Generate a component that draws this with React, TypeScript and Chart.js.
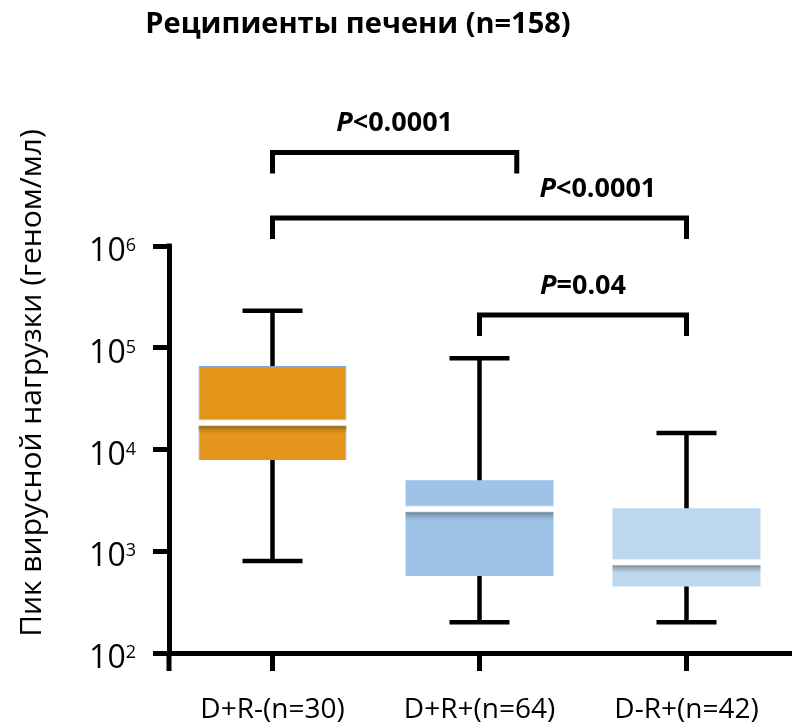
import React, { useEffect, useRef } from 'react';
import { Chart, registerables } from 'chart.js';

Chart.register(...registerables);

// ---- data ----
const categories = ['D+R-(n=30)', 'D+R+(n=64)', 'D-R+(n=42)'];
const whiskerMin = [800, 200, 200];
const q1 = [7900, 570, 450];
const median = [18300, 2600, 780];
const q3 = [66000, 5000, 2650];
const whiskerMax = [231000, 79000, 14500];
const boxColors = ['#E4961A', '#9DC3E6', '#BDD7EE'];
const boxBorderColors = ['#7FA3D3', 'rgba(0,0,0,0)', 'rgba(0,0,0,0)'];
const boxBorderWidths = [1, 0, 0];
const yTickValues = [100, 1000, 10000, 100000, 1000000];

// significance brackets (category index positions, y value of bracket bar)
const bracketFrom = [0, 0, 1];
const bracketTo = [1.18, 2, 2];
const bracketTop = [8.3e6, 1.88e6, 2.1e5];
const bracketLabelX = [0.59, 1.572, 1.5];
const bracketP = ['P', 'P', 'P'];
const bracketText = ['<0.0001', '<0.0001', '=0.04'];

const titleText = 'Реципиенты печени (n=158)';
const yTitleText = 'Пик вирусной нагрузки (геном/мл)';

const FONT = '"Open Sans", "Noto Sans", sans-serif';

const boxPlugin = {
  id: 'boxExtras',
  afterDatasetsDraw(chart: any) {
    const ctx = chart.ctx;
    const xs = chart.scales.x;
    const ys = chart.scales.y;
    const catW = xs.getPixelForValue(1) - xs.getPixelForValue(0);
    const meta = chart.getDatasetMeta(0);
    ctx.save();
    categories.forEach((_, i) => {
      const cx = xs.getPixelForValue(i);
      const bar = meta.data[i];
      const half = bar.width / 2;
      const pTop = ys.getPixelForValue(q3[i]);
      const pBot = ys.getPixelForValue(q1[i]);
      const pMax = ys.getPixelForValue(whiskerMax[i]);
      const pMin = ys.getPixelForValue(whiskerMin[i]);
      const capHalf = catW * 0.145;
      ctx.strokeStyle = '#000';
      ctx.lineWidth = 4.5;
      ctx.lineCap = 'butt';
      ctx.beginPath();
      ctx.moveTo(cx, pTop);
      ctx.lineTo(cx, pMax);
      ctx.moveTo(cx - capHalf, pMax);
      ctx.lineTo(cx + capHalf, pMax);
      ctx.moveTo(cx, pBot);
      ctx.lineTo(cx, pMin);
      ctx.moveTo(cx - capHalf, pMin);
      ctx.lineTo(cx + capHalf, pMin);
      ctx.stroke();

      // median: white line with a soft shadow fading downward
      const pMed = ys.getPixelForValue(median[i]);
      const sTop = pMed + 2.6;
      const sBot = Math.min(pMed + 11, pBot);
      const g = ctx.createLinearGradient(0, sTop, 0, sBot);
      g.addColorStop(0, 'rgba(0,0,0,0.38)');
      g.addColorStop(0.45, 'rgba(0,0,0,0.16)');
      g.addColorStop(1, 'rgba(0,0,0,0)');
      ctx.fillStyle = g;
      ctx.fillRect(cx - half, sTop, half * 2, sBot - sTop);
      ctx.fillStyle = 'rgba(255,255,255,0.5)';
      ctx.fillRect(cx - half - 2, pMed - 3.4, half * 2 + 4, 6.8);
      ctx.fillStyle = '#ffffff';
      ctx.fillRect(cx - half - 1, pMed - 2.6, half * 2 + 2, 5.2);
    });
    ctx.restore();
  },
  afterDraw(chart: any) {
    const ctx = chart.ctx;
    const xs = chart.scales.x;
    const ys = chart.scales.y;
    const area = chart.chartArea;
    ctx.save();
    // axis extensions (y axis continues below the x axis, top corner)
    ctx.fillStyle = '#000';
    ctx.fillRect(area.left - 2.5, area.bottom, 5, 18);
    ctx.fillRect(area.left - 2.5, area.top - 2.5, 5, 5);

    // y tick labels with superscript exponents
    yTickValues.forEach((v) => {
      const py = ys.getPixelForValue(v);
      const exp = String(Math.round(Math.log10(v)));
      ctx.font = `18px ${FONT}`;
      const supW = ctx.measureText(exp).width;
      ctx.font = `32px ${FONT}`;
      const baseW = ctx.measureText('10').width;
      const right = area.left - 33;
      ctx.fillStyle = '#000';
      ctx.textAlign = 'left';
      ctx.textBaseline = 'alphabetic';
      ctx.fillText('10', right - supW - baseW, py + 15);
      ctx.font = `18px ${FONT}`;
      ctx.fillText(exp, right - supW, py + 5);
    });

    // brackets
    ctx.strokeStyle = '#000';
    ctx.lineWidth = 5;
    ctx.lineCap = 'butt';
    ctx.lineJoin = 'miter';
    bracketFrom.forEach((f, i) => {
      const x1 = xs.getPixelForValue(f);
      const x2 = xs.getPixelForValue(bracketTo[i]);
      const yb = ys.getPixelForValue(bracketTop[i]);
      ctx.beginPath();
      ctx.moveTo(x1, yb + 21);
      ctx.lineTo(x1, yb);
      ctx.lineTo(x2, yb);
      ctx.lineTo(x2, yb + 21);
      ctx.stroke();
      const lx = xs.getPixelForValue(bracketLabelX[i]);
      ctx.font = `italic bold 27px ${FONT}`;
      const pW = ctx.measureText(bracketP[i]).width;
      ctx.font = `bold 27px ${FONT}`;
      const tW = ctx.measureText(bracketText[i]).width;
      const sx = lx - (pW + tW) / 2;
      ctx.textAlign = 'left';
      ctx.textBaseline = 'middle';
      ctx.fillStyle = '#000';
      ctx.font = `italic bold 27px ${FONT}`;
      ctx.fillText(bracketP[i], sx, yb - 29);
      ctx.font = `bold 27px ${FONT}`;
      ctx.fillText(bracketText[i], sx + pW, yb - 29);
    });

    // title
    ctx.font = `bold 29px ${FONT}`;
    ctx.textAlign = 'center';
    ctx.textBaseline = 'middle';
    ctx.fillText(titleText, 358, 25);

    // y axis title
    ctx.save();
    ctx.translate(32, 383);
    ctx.rotate(-Math.PI / 2);
    ctx.font = `30px ${FONT}`;
    ctx.textAlign = 'center';
    ctx.textBaseline = 'middle';
    ctx.fillText(yTitleText, 0, 0);
    ctx.restore();

    ctx.restore();
  },
};

export default function App() {
  const ref = useRef<HTMLCanvasElement>(null);
  useEffect(() => {
    if (!ref.current) return;
    const chart = new Chart(ref.current, {
      type: 'bar',
      data: {
        labels: categories,
        datasets: [
          {
            data: q1.map((v, i) => [v, q3[i]]) as any,
            backgroundColor: boxColors,
            borderColor: boxBorderColors,
            borderWidth: boxBorderWidths,
            borderSkipped: false,
            barPercentage: 0.715,
            categoryPercentage: 1,
          },
        ],
      },
      options: {
        animation: false,
        responsive: true,
        maintainAspectRatio: false,
        layout: { padding: { top: 246, right: 2, left: 0, bottom: 0 } },
        plugins: { legend: { display: false }, tooltip: { enabled: false } },
        scales: {
          x: {
            type: 'category',
            offset: true,
            grid: {
              offset: false,
              drawOnChartArea: false,
              drawTicks: true,
              tickLength: 18,
              lineWidth: 5,
              color: '#000',
            },
            border: { display: true, color: '#000', width: 5 },
            ticks: {
              color: '#000',
              padding: 22,
              font: { family: FONT, size: 28 },
              maxRotation: 0,
            },
            afterFit: (s: any) => {
              s.height = 73;
            },
          },
          y: {
            type: 'logarithmic',
            min: 100,
            max: 1000000,
            grid: {
              drawOnChartArea: false,
              drawTicks: true,
              tickLength: 16,
              lineWidth: 5,
              color: '#000',
            },
            border: { display: true, color: '#000', width: 5 },
            ticks: { display: false },
            afterBuildTicks: (s: any) => {
              s.ticks = yTickValues.map((v) => ({ value: v }));
            },
            afterFit: (s: any) => {
              s.width = 169;
            },
          },
        },
      },
      plugins: [boxPlugin],
    });
    return () => chart.destroy();
  }, []);
  return (
    <div style={{ position: 'absolute', left: 0, top: 0, width: 792, height: 726, background: '#fff' }}>
      <canvas ref={ref} />
    </div>
  );
}
